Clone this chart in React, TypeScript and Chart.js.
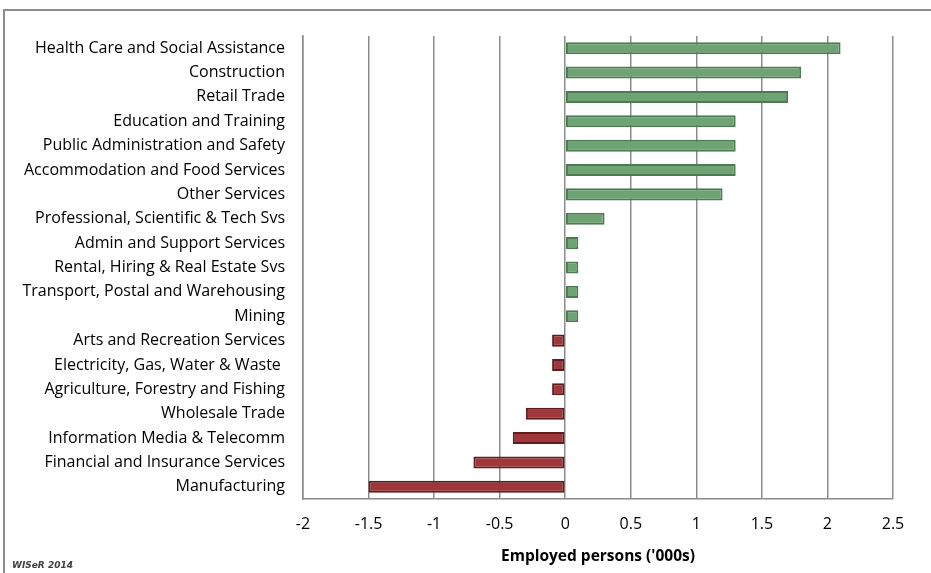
import React, { useEffect, useRef } from "react";
import { Chart, registerables } from "chart.js";

Chart.register(...registerables);

const categories = [
  "Health Care and Social Assistance",
  "Construction",
  "Retail Trade",
  "Education and Training",
  "Public Administration and Safety",
  "Accommodation and Food Services",
  "Other Services",
  "Professional, Scientific & Tech Svs",
  "Admin and Support Services",
  "Rental, Hiring & Real Estate Svs",
  "Transport, Postal and Warehousing",
  "Mining",
  "Arts and Recreation Services",
  "Electricity, Gas, Water & Waste ",
  "Agriculture, Forestry and Fishing",
  "Wholesale Trade",
  "Information Media & Telecomm",
  "Financial and Insurance Services",
  "Manufacturing",
];

const changeValues = [2.1, 1.8, 1.7, 1.3, 1.3, 1.3, 1.2, 0.3, 0.1, 0.1, 0.1, 0.1, -0.1, -0.1, -0.1, -0.3, -0.4, -0.7, -1.5];

const xTickValues = [-2, -1.5, -1, -0.5, 0, 0.5, 1, 1.5, 2, 2.5];
const xAxisTitle = "Employed persons ('000s)";
const sourceNote = "WISeR 2014";

const FONT = "'Open Sans', 'Noto Sans', sans-serif";

export default function App() {
  const canvasRef = useRef<HTMLCanvasElement | null>(null);

  useEffect(() => {
    const canvas = canvasRef.current;
    if (!canvas) return;

    const notePlugin = {
      id: "notePlugin",
      afterDraw(chart: any) {
        const ctx = chart.ctx;
        ctx.save();
        ctx.font = "italic bold 9px Verdana, 'DejaVu Sans', sans-serif";
        ctx.fillStyle = "#404040";
        ctx.textAlign = "left";
        ctx.textBaseline = "middle";
        ctx.fillText(sourceNote, 12, 566);
        ctx.restore();
      },
    };

    const chart = new Chart(canvas, {
      type: "bar",
      data: {
        labels: categories,
        datasets: [
          {
            data: changeValues,
            backgroundColor: changeValues.map((v) => (v >= 0 ? "#6ea373" : "#a0363a")),
            borderColor: changeValues.map((v) => (v >= 0 ? "#4d7a52" : "#5e1c1e")),
            borderWidth: 2,
            borderSkipped: false,
            barPercentage: 0.9,
            categoryPercentage: 0.55,
          },
        ],
      },
      options: {
        indexAxis: "y",
        animation: false,
        responsive: false,
        maintainAspectRatio: false,
        layout: { padding: { left: 0, right: 38, top: 36, bottom: 0 } },
        plugins: {
          legend: { display: false },
          tooltip: { enabled: false },
        },
        scales: {
          x: {
            min: -2,
            max: 2.5,
            afterBuildTicks(scale: any) {
              scale.ticks = xTickValues.map((v) => ({ value: v }));
            },
            afterFit(scale: any) {
              scale.height = 74;
            },
            grid: {
              color: "#8c8c8c",
              lineWidth: 1.5,
              drawTicks: false,
            },
            border: { display: true, color: "#8c8c8c", width: 1.5 },
            ticks: {
              color: "#000",
              font: { family: FONT, size: 16 },
              padding: 16,
              maxRotation: 0,
              callback: (v: any) => String(v),
            },
            title: {
              display: true,
              text: xAxisTitle,
              color: "#000",
              font: { family: FONT, size: 15.5, weight: "bold" },
              padding: { top: 0, bottom: 7 },
            },
          },
          y: {
            afterFit(scale: any) {
              scale.width = 303;
            },
            grid: { display: false, drawTicks: false },
            border: { display: true, color: "#8c8c8c", width: 1.5 },
            ticks: {
              color: "#000",
              font: { family: FONT, size: 16 },
              padding: 18,
              autoSkip: false,
            },
          },
        },
      },
      plugins: [notePlugin],
    } as any);

    return () => chart.destroy();
  }, []);

  return (
    <div style={{ position: "fixed", left: 0, top: 0, width: 931, height: 573, background: "#fff", overflow: "hidden" }}>
      <canvas ref={canvasRef} width={931} height={573} style={{ position: "absolute", left: 0, top: 0 }} />
      <div
        style={{
          position: "absolute",
          left: 3,
          top: 9,
          width: 1000,
          height: 1000,
          borderLeft: "2px solid #8c8c8c",
          borderTop: "2px solid #8c8c8c",
          pointerEvents: "none",
        }}
      />
    </div>
  );
}
